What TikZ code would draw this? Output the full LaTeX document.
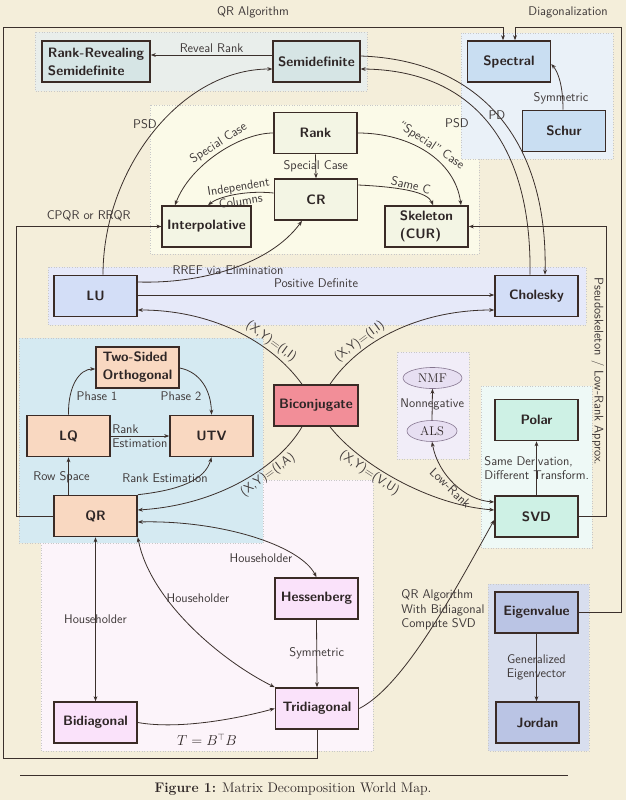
\documentclass[tikz,border=0pt]{standalone}
\usetikzlibrary{arrows.meta,shapes.geometric}
\definecolor{bg}{HTML}{F4EEDA}
\definecolor{gRR}{HTML}{E9EEEB}
\definecolor{cRR}{HTML}{D6E5E5}
\definecolor{gSpec}{HTML}{EAF1F8}
\definecolor{cSpec}{HTML}{C9DEF2}
\definecolor{gRank}{HTML}{FBFAE8}
\definecolor{cRank}{HTML}{F3F5E4}
\definecolor{gLU}{HTML}{E6E9F9}
\definecolor{cLU}{HTML}{D3DEF7}
\definecolor{gQR}{HTML}{D5EAF2}
\definecolor{cQR}{HTML}{F9D8C1}
\definecolor{cBicon}{HTML}{F28E98}
\definecolor{gPink}{HTML}{FCF4FA}
\definecolor{cPink}{HTML}{FAE2FA}
\definecolor{gNMF}{HTML}{F1EDF8}
\definecolor{cEll}{HTML}{E7DFF2}
\definecolor{ellLine}{HTML}{85758F}
\definecolor{gSVD}{HTML}{EEF9F6}
\definecolor{cSVD}{HTML}{CEF1E5}
\definecolor{gEig}{HTML}{D8DEEE}
\definecolor{cEig}{HTML}{BAC4E4}
\definecolor{lc}{HTML}{3B302C}
\definecolor{boxline}{HTML}{3A2B26}
\definecolor{txt}{HTML}{2E2626}
\definecolor{lbltxt}{HTML}{3E3838}
\definecolor{grpline}{HTML}{C8C8C8}
\tikzset{
  box/.style={draw=boxline, line width=1.6pt, minimum width=83pt, minimum height=41pt,
    inner xsep=5pt, inner ysep=4pt, font=\sffamily\bfseries\fontsize{13.6}{18}\selectfont, text=txt},
  lbl/.style={font=\sffamily\fontsize{12.6}{14.5}\selectfont, text=lbltxt, inner sep=2pt},
  grp/.style={draw=grpline, dotted, line width=0.6pt},
  arr/.style={draw=lc, line width=0.8pt, -{Stealth[length=5pt,width=3.8pt]}},
  arr2/.style={draw=lc, line width=0.8pt, {Stealth[length=5pt,width=3.8pt]}-{Stealth[length=5pt,width=3.8pt]}},
  ell/.style={ellipse, draw=ellLine, fill=cEll, line width=0.6pt, minimum height=21pt,
    inner sep=1pt, font=\rmfamily\fontsize{12.6}{14}\selectfont, text=txt}
}
\begin{document}
\begin{tikzpicture}[x=1pt,y=-1pt]
\useasboundingbox (0,0) rectangle (626,800);
\fill[bg] (0,0) rectangle (626,800);
% groups
\draw[grp, fill=gRR] (35,32) rectangle (367,91);
\draw[grp, fill=gRank] (150,105) rectangle (479,254);
\draw[grp, fill=gSpec] (461,33) rectangle (613,159);
\draw[grp, fill=gLU] (48,267) rectangle (586,325);
\draw[grp, fill=gPink] (41,480) rectangle (373,751);
\draw[grp, fill=gQR] (19,338) rectangle (263,543);
\draw[grp, fill=gNMF] (397,352) rectangle (469,459);
\draw[grp, fill=gSVD] (481,386) rectangle (592,548);
\draw[grp, fill=gEig] (488,584) rectangle (589,751);
% nodes
\node[box, fill=cRR, align=left, minimum width=108pt] (rrs) at (96,61.5) {Rank-Revealing\\Semidefinite};
\node[box, fill=cRR] (sd) at (316.5,61.5) {Semidefinite};
\node[box, fill=cSpec] (spec) at (509,61.5) {Spectral};
\node[box, fill=cSpec] (schur) at (564,131) {Schur};
\node[box, fill=cRank] (rank) at (315.5,133) {Rank};
\node[box, fill=cRank] (cr) at (316,199.5) {CR};
\node[box, fill=cRank] (interp) at (206.5,226.5) {Interpolative};
\node[box, fill=cRank, align=left] (skel) at (426.5,226.5) {Skeleton\\(CUR)};
\node[box, fill=cLU] (lu) at (95.5,296) {LU};
\node[box, fill=cLU] (chol) at (536.5,296) {Cholesky};
\node[box, fill=cQR, align=left] (two) at (137.5,367.5) {Two-Sided\\Orthogonal};
\node[box, fill=cQR] (lq) at (68.5,436) {LQ};
\node[box, fill=cQR] (utv) at (211.5,436) {UTV};
\node[box, fill=cQR] (qr) at (95.5,516) {QR};
\node[box, fill=cBicon] (bicon) at (316,405.5) {Biconjugate};
\node[ell, minimum width=59pt] (nmf) at (432.5,378) {NMF};
\node[ell, minimum width=50pt] (als) at (432,431) {ALS};
\node[box, fill=cSVD] (polar) at (536.5,420) {Polar};
\node[box, fill=cSVD] (svd) at (536.5,516.5) {SVD};
\node[box, fill=cPink] (hess) at (316.5,598.5) {Hessenberg};
\node[box, fill=cPink] (bidi) at (95.5,722.5) {Bidiagonal};
\node[box, fill=cPink] (tri) at (317,708.5) {Tridiagonal};
\node[box, fill=cEig] (eig) at (536.5,612.5) {Eigenvalue};
\node[box, fill=cEig] (jordan) at (537.5,722.5) {Jordan};
\coordinate (pr) at (606,226.5);
\coordinate (pl) at (16,226.5);
\coordinate (dr) at (621,27);
\coordinate (bl) at (3,758);
\coordinate (tl) at (3,27);
% edges
\draw[arr] ([yshift=6.5pt]sd.west) -- node[lbl, above, inner sep=1.5pt] {Reveal Rank} ([yshift=6.5pt]rrs.east);
\draw[arr] ([xshift=7.5pt]lu.north) .. controls (103,170) and (180,69) .. ([yshift=-7.5pt]sd.west)
  node[lbl] at (145,124) {PSD};
\draw[arr] ([yshift=5.5pt]sd.east) .. controls (480,60) and (548,140) .. ([xshift=8.5pt]chol.north)
  node[lbl] at (497,115) {PD};
\draw[arr] ([xshift=-6.5pt]chol.north) .. controls (532,140) and (470,70) .. ([yshift=-7.5pt]sd.east)
  node[lbl] at (457,123) {PSD};
\draw[arr] ([xshift=-1pt]schur.north) .. controls (563,85) and (558,72) .. ([yshift=-2.5pt]spec.east)
  node[lbl] at (561,98) {Symmetric};
\draw[arr] (rank.west) .. controls (240,133) and (190,165) .. ([xshift=-31.5pt]interp.north)
  node[lbl, sloped, above, pos=0.45] {Special Case};
\draw[arr] (rank.south) -- node[lbl] {Special Case} (cr.north);
\draw[arr] (rank.east) .. controls (410,133) and (455,160) .. ([xshift=34.5pt]skel.north)
  node[lbl, sloped, above, pos=0.5] {``Special'' Case};
\draw[arr] ([yshift=6.5pt]cr.west) .. controls (245,190) and (218,197) .. ([xshift=1.5pt]interp.north)
  node[lbl, sloped, pos=0.42, align=center, inner sep=0pt] {Independent\\Columns};
\draw[arr] ([yshift=14.5pt]cr.east) .. controls (400,187) and (428,192) .. ([xshift=6.5pt]skel.north)
  node[lbl, sloped, above, pos=0.5, inner sep=1pt] {Same C};
\draw[arr] ([yshift=14pt]lu.east) .. controls (200,284) and (270,265) .. ([xshift=-14pt]cr.south)
  node[lbl] at (228,270) {RREF via Elimination};
\draw[arr] ([yshift=1pt]lu.east) -- node[lbl, yshift=12pt] {Positive Definite} ([yshift=1pt]chol.west);
\draw[arr] ([xshift=-14pt]bicon.north) .. controls (270,340) and (210,310) .. ([yshift=-14pt]lu.east)
  node[lbl, sloped, above, pos=0.3] {(X,Y)=(I,I)};
\draw[arr] ([xshift=14pt]bicon.north) .. controls (360,340) and (420,310) .. ([yshift=-14pt]chol.west)
  node[lbl, sloped, above, pos=0.3] {(X,Y)=(I,I)};
\draw[arr] ([xshift=-14pt]bicon.south) .. controls (280,465) and (220,505) .. ([yshift=6pt]qr.east)
  node[lbl, sloped, below, pos=0.37] {(X,Y)=(I,A)};
\draw[arr] ([xshift=14pt]bicon.south) .. controls (360,465) and (430,505) .. ([yshift=6.5pt]svd.west)
  node[lbl, sloped, below, pos=0.35] {(X,Y)=(V,U)};
\draw[arr2] (als.south) .. controls (438,475) and (465,500) .. ([yshift=14.5pt]svd.west)
  node[lbl, sloped, below, pos=0.5, inner sep=1pt] {Low-Rank};
\draw[arr] (als.north) -- node[lbl] {Nonnegative} (nmf.south);
\draw[arr] (svd.north) -- (polar.south)
  node[lbl, anchor=west, align=left] at (482,468) {Same Derivation,\\Different Transform.};
\draw[arr] (svd.east) -| node[lbl, pos=0.75, rotate=-90, anchor=north, inner sep=1.5pt] {Pseudoskeleton / Low-Rank Approx.} (pr) -- (skel.east);
\draw[arr] (qr.north -| lq.south) -- (lq.south) node[lbl] at (61.5,477) {Row Space};
\draw[arr] (qr.north east) .. controls (180,490) and (205,480) .. (utv.south)
  node[lbl] at (165,478) {Rank Estimation};
\draw[arr] (lq.east) -- (utv.west) node[lbl, anchor=west, align=left] at (110,436) {Rank\\Estimation};
\draw[arr] (lq.north) .. controls (68,385) and (80,369) .. ([yshift=-1.5pt]two.west)
  node[lbl] at (97,396) {Phase 1};
\draw[arr] ([yshift=-0.5pt]two.east) .. controls (200,372) and (211,390) .. (utv.north)
  node[lbl] at (181,396) {Phase 2};
\draw[arr] (qr.west) -| (pl) -- node[lbl, yshift=10.5pt] {CPQR or RRQR} (interp.west);
\draw[arr2] (qr.south) -- node[lbl] {Householder} (bidi.north);
\draw[arr2] (qr.south east) .. controls (150,600) and (220,660) .. (tri.north west)
  node[lbl] at (198,598) {Householder};
\draw[arr2] ([yshift=-6pt]qr.east) .. controls (220,520) and (300,545) .. (hess.north)
  node[lbl] at (261,558) {Householder};
\draw[arr] (hess.south) -- node[lbl] {Symmetric} (tri.north);
\draw[arr] (bidi.east) .. controls (180,730) and (240,718) .. (tri.west)
  node[lbl, font=\fontsize{13.5}{15}\selectfont, text=txt] at (207,740) {$T = B^{\top} B$};
\draw[arr] (tri.east) .. controls (405,685) and (455,590) .. ([yshift=-3.5pt]svd.west)
  node[lbl, anchor=west, align=left] at (399,610) {QR Algorithm\\With Bidiagonal\\Compute SVD};
\draw[arr] (eig.south) -- node[lbl, align=center] {Generalized\\Eigenvector} (eig.south |- jordan.north);
\draw[arr] (eig.east) -| (dr) -| node[lbl, pos=0.25, yshift=15pt] {Diagonalization} ([xshift=6pt]spec.north);
\draw[arr] (tri.south) |- (bl) -- (tl) -| node[lbl, pos=0.25, yshift=15pt] {QR Algorithm} ([xshift=-6pt]spec.north);
% caption
\draw[draw=lc, line width=0.8pt] (20,775) -- (568,775);
\node[font=\rmfamily\fontsize{13.9}{16}\selectfont, text=txt] (cap) at (293,789) {\textbf{Figure 1:} Matrix Decomposition World Map.};
\end{tikzpicture}
\end{document}
